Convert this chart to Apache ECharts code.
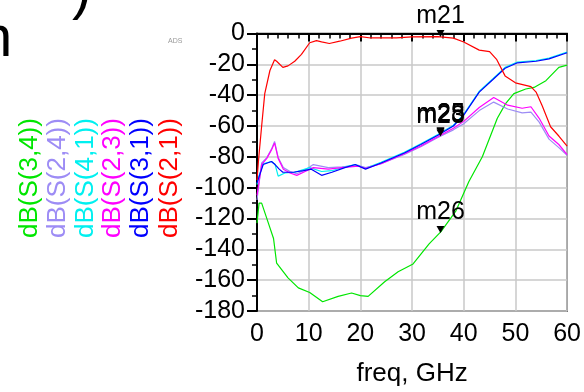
<!DOCTYPE html>
<html>
<head>
<meta charset="utf-8">
<script src="https://cdn.jsdelivr.net/npm/echarts@6/dist/echarts.min.js"></script>
<style>
  html, body { margin: 0; padding: 0; background: #fff; }
  #chart { width: 584px; height: 392px; }
</style>
</head>
<body>
<div id="chart"></div>
<script>
// S-parameter traces (freq in GHz, magnitude in dB)
const freqS21 = [0, 0.3, 0.9, 1.5, 2.5, 3.4, 3.8, 5, 6, 7.3, 8.6, 10.2, 11.5, 12.5, 14, 16, 18.3, 20, 22, 27, 30, 35, 38, 40, 43, 45, 46.4, 48, 50, 53, 54, 55.2, 56.8, 58.4, 60];
const dbS21 = [-95, -82, -60, -39, -24, -17, -18, -22, -21, -18, -13.5, -6, -4.6, -5.4, -6.5, -5, -3, -2, -2.9, -2.9, -2.2, -2, -3, -5.5, -10.8, -11.8, -17, -27.5, -32, -34.5, -38, -47, -60.5, -66.5, -73];

const freqS31 = [0, 0.3, 1.2, 2.8, 3.5, 4.3, 5, 7, 9, 10.5, 12.5, 14.5, 17, 19, 21, 24, 28.5, 31.7, 35, 38, 40, 43, 45.6, 48, 50.4, 54, 56.5, 60];
const dbS31 = [-97, -94, -85, -83, -85, -88, -90, -90, -89, -88, -92, -90, -87, -85, -88, -84, -77.5, -72, -66, -60, -53, -38, -30, -22.5, -19, -18, -16.5, -12.5];

const freqS41 = [0, 0.3, 1.2, 2.8, 3.5, 4.1, 5.4, 7.3, 10.2, 12.5, 14.5, 17, 19, 21, 24, 28.5, 31.7, 35, 38, 40, 43, 45.6, 48, 50.4, 54, 56.5, 60];
const dbS41 = [-98, -93, -84.5, -83, -85, -92.5, -90.5, -90, -87, -89.5, -89, -86.5, -85, -87.5, -83.5, -77, -71.5, -65.5, -59.5, -52.5, -37.5, -29.5, -22, -18.5, -17.5, -16, -12];

const freqS23 = [0, 0.9, 1.9, 2.8, 3.4, 4.1, 5.1, 6.4, 7.7, 9.3, 10.9, 13.8, 16.4, 19.6, 21, 24, 28.5, 31.7, 35, 38, 40, 43, 45.8, 48.5, 51.3, 53, 54.6, 56.5, 58.4, 60];
const dbS23 = [-105, -85, -81, -75.5, -71, -81, -88, -90.5, -92, -89.5, -87, -88, -87, -86, -87.5, -84.5, -78, -73, -67, -61.5, -57, -48, -41.5, -46.5, -48.5, -47.5, -55, -66.5, -72, -78.5];

const freqS24 = [0, 0.9, 1.9, 2.8, 3.4, 4.1, 5.1, 6.4, 7.7, 9.3, 10.9, 13.8, 16.4, 19.6, 21, 24, 28.5, 31.7, 35, 38, 40, 43, 45.8, 48.5, 51.3, 53, 54.6, 56.5, 58.4, 60];
const dbS24 = [-108, -84, -80.5, -75, -70, -80.5, -87, -89.5, -91, -88.5, -85, -87, -86.5, -85.5, -87, -84.5, -78.5, -73.5, -67.5, -62.5, -58.5, -50, -44.5, -49, -51.5, -51, -57.5, -68.5, -74, -79];

const freqS34 = [0, 0.4, 0.9, 2.2, 3.2, 3.8, 6, 8, 10.2, 12.7, 15.7, 18.3, 20, 21.5, 24.7, 27.3, 30.2, 33.3, 35.6, 38.5, 41, 43.6, 46.5, 48.1, 49.7, 52, 53.6, 55.9, 58.4, 60];
const dbS34 = [-123, -110, -110, -123, -133, -149, -158.5, -165, -168, -174, -170.5, -168.3, -170, -170.5, -161, -154.5, -149.5, -136.5, -128.5, -115, -96, -80, -55, -45.5, -39, -36, -35, -30.6, -22, -20.5];

const legendNames = ["dB(S(3,4))", "dB(S(2,4))", "dB(S(4,1))", "dB(S(2,3))", "dB(S(3,1))", "dB(S(2,1))"];
const legendColors = ["#00e600", "#9d8cf5", "#00f0f0", "#ff00ff", "#0000ff", "#ff0000"];
const xTicks = [0, 10, 20, 30, 40, 50, 60];

const pairs = (f, d) => f.map((v, i) => [v, d[i]]);
const FONT = "Liberation Sans";

const chart = echarts.init(document.getElementById("chart"));

function marker(name, x, y) {
  return {
    symbol: "triangle",
    symbolSize: [8, 7],
    symbolRotate: 180,
    symbolOffset: [0, -3],
    itemStyle: { color: "#000" },
    label: {
      show: true,
      position: "top",
      distance: 1,
      formatter: name,
      color: "#000",
      fontFamily: FONT,
      fontSize: 25,
    },
    coord: [x, y],
  };
}

function line(name, color, data, marks) {
  return {
    type: "line",
    name: name,
    data: data,
    showSymbol: false,
    lineStyle: { color: color, width: 1.2 },
    itemStyle: { color: color },
    z: 3,
    markPoint: marks ? { silent: true, data: marks, animation: false } : undefined,
  };
}

// rotated legend labels on the left
const legendGraphics = legendNames.map((t, i) => ({
  type: "text",
  x: [30, 58, 86, 113, 141, 170][i],
  y: 238,
  rotation: Math.PI / 2,
  style: {
    text: t,
    fill: legendColors[i],
    font: "26px " + FONT,
    textAlign: "left",
    textVerticalAlign: "middle",
  },
}));

const option = {
  animation: false,
  backgroundColor: "#fff",
  grid: {
    left: 257,
    top: 33.5,
    right: 16,
    bottom: 77,
    show: true,
    borderColor: "#222",
    borderWidth: 1.5,
    backgroundColor: "transparent",
  },
  xAxis: {
    type: "value",
    min: 0,
    max: 60,
    interval: 10,
    name: "freq, GHz",
    nameLocation: "middle",
    nameGap: 50,
    nameTextStyle: { color: "#000", fontFamily: FONT, fontSize: 26 },
    axisLine: { lineStyle: { color: "#000", width: 2 } },
    axisTick: { length: 8, lineStyle: { color: "#000", width: 2 } },
    minorTick: { show: true, splitNumber: 5, length: 5, lineStyle: { color: "#000", width: 1.5 } },
    axisLabel: {
      color: "#000",
      fontFamily: FONT,
      fontSize: 25,
      margin: 11,
      formatter: (v) => (xTicks.includes(v) ? String(v) : ""),
    },
    splitLine: { lineStyle: { color: "#c8c8c8", width: 1.5 } },
  },
  yAxis: {
    type: "value",
    min: -180,
    max: 0,
    interval: 20,
    axisLine: { lineStyle: { color: "#000", width: 2 } },
    axisTick: { length: 10, lineStyle: { color: "#000", width: 2 } },
    minorTick: { show: true, splitNumber: 2, length: 5, lineStyle: { color: "#000", width: 1.5 } },
    axisLabel: { color: "#000", fontFamily: FONT, fontSize: 25, margin: 12 },
    splitLine: { lineStyle: { color: "#c8c8c8", width: 1.5 } },
  },
  graphic: [
    // clipped slide-title fragments at the top left
    { type: "text", x: -20, y: 69, style: { text: "n", fill: "#000", font: "58px " + FONT, textVerticalAlign: "bottom" } },
    { type: "text", x: 72, y: -37, style: { text: ")", fill: "#000", font: "58px " + FONT, textVerticalAlign: "top" } },
    { type: "text", x: 168, y: 38, style: { text: "ADS", fill: "#999", font: "7px " + FONT } },
  ].concat(legendGraphics),
  series: [
    line("dB(S(3,4))", legendColors[0], pairs(freqS34, dbS34), [marker("m26", 35.5, -129)]),
    line("dB(S(2,4))", legendColors[1], pairs(freqS24, dbS24)),
    line("dB(S(4,1))", legendColors[2], pairs(freqS41, dbS41), [marker("m25", 35.5, -65)]),
    line("dB(S(2,3))", legendColors[3], pairs(freqS23, dbS23), [marker("m23", 35.5, -66.5)]),
    line("dB(S(3,1))", legendColors[4], pairs(freqS31, dbS31), [marker("m28", 35.5, -65.5)]),
    line("dB(S(2,1))", legendColors[5], pairs(freqS21, dbS21), [marker("m21", 35.5, -2)]),
  ],
};

chart.setOption(option);
</script>
</body>
</html>
